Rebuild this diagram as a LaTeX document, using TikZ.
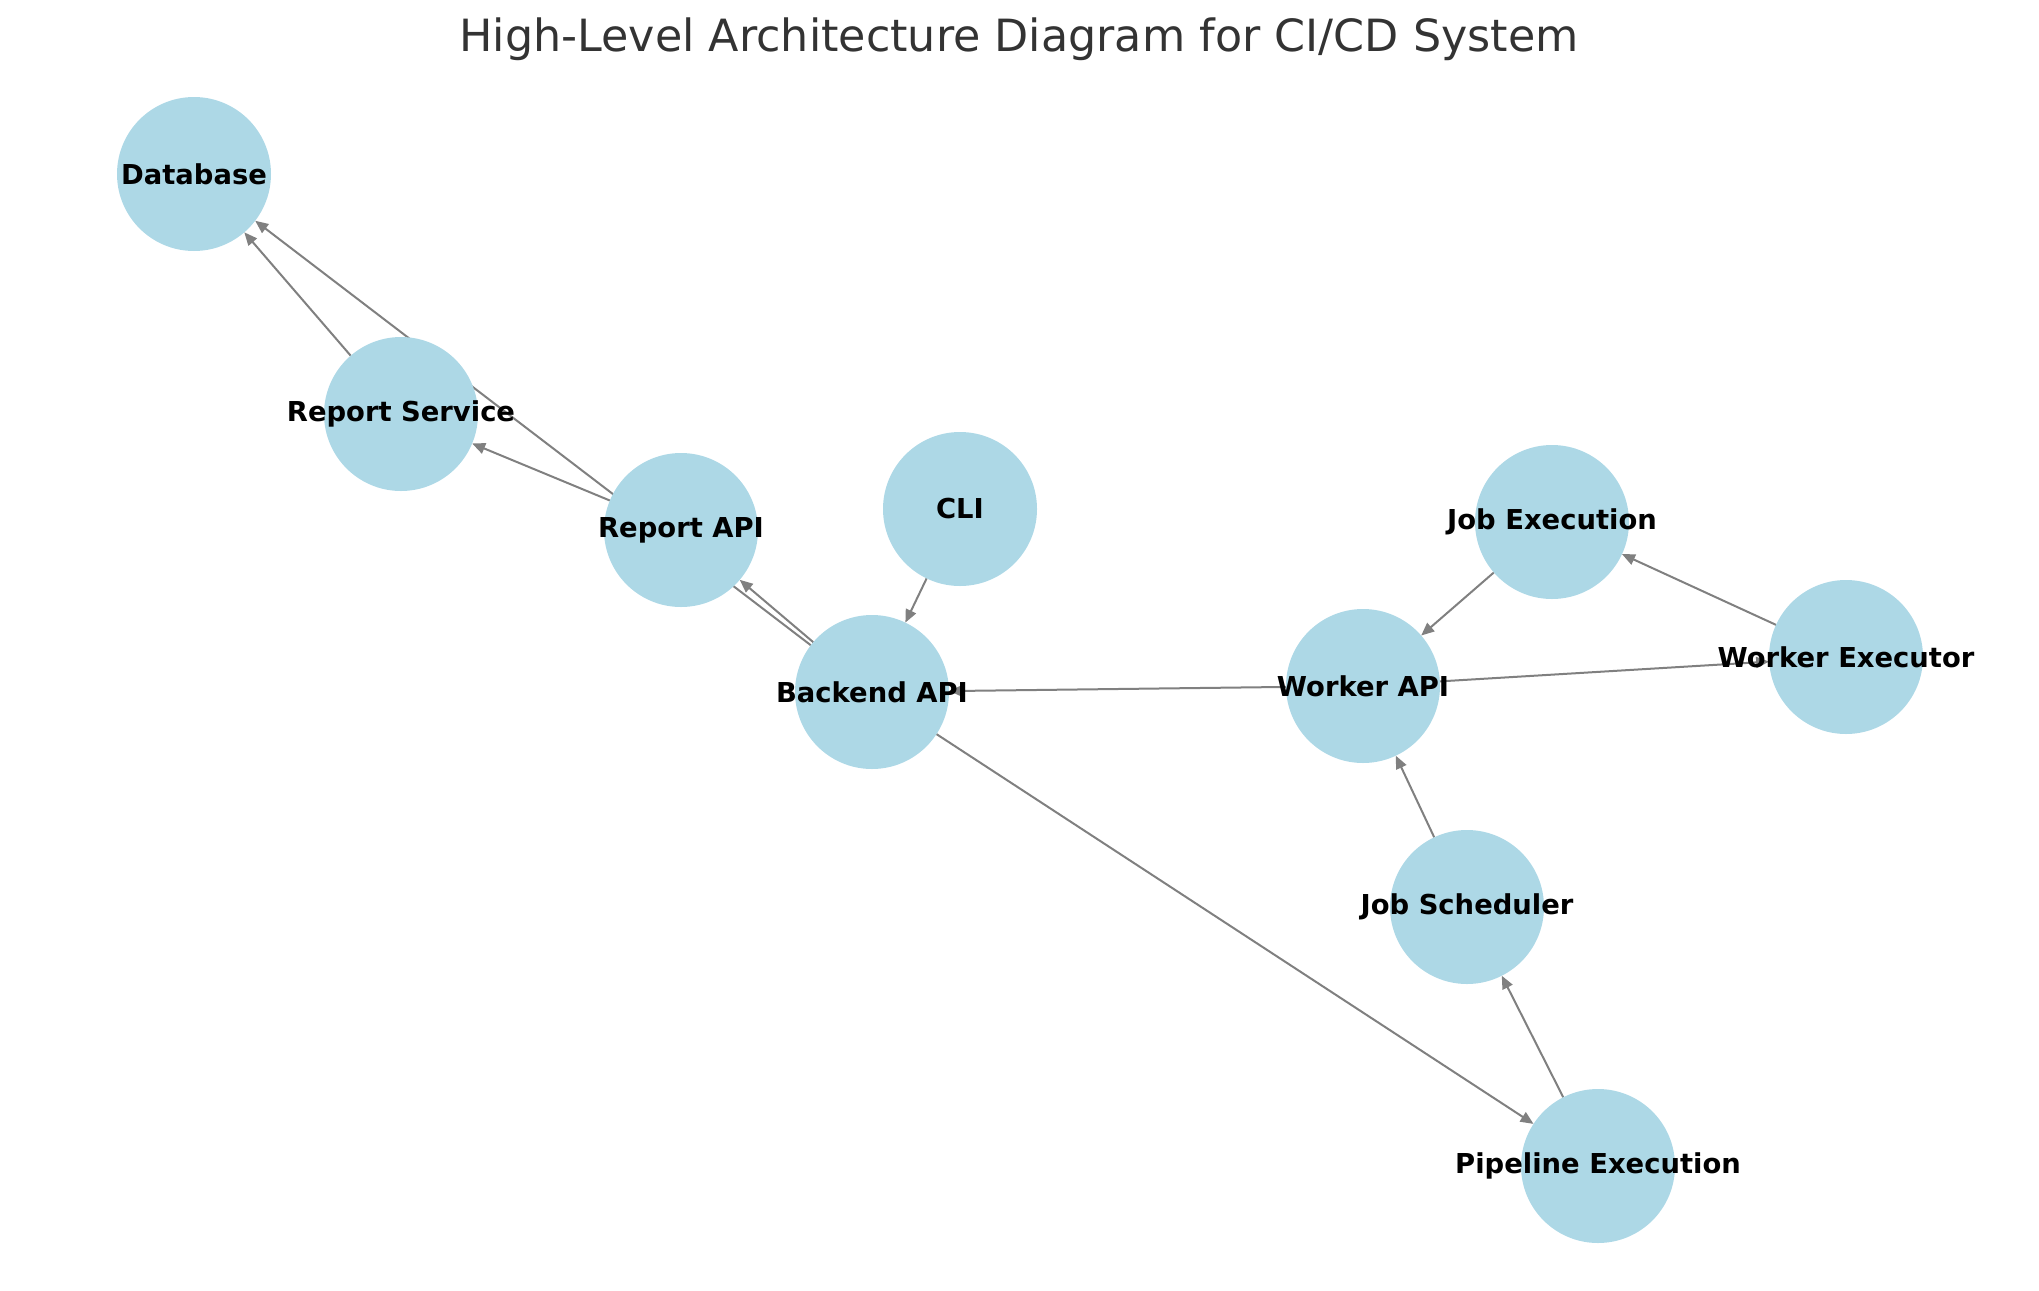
\documentclass[tikz,border=0pt]{standalone}
\usepackage{fontspec}
\setmainfont{DejaVu Sans}
\usetikzlibrary{arrows.meta,backgrounds}
\definecolor{nodeblue}{HTML}{ADD8E6}
\definecolor{edgegray}{HTML}{808080}
\definecolor{titlegray}{HTML}{333333}
\tikzset{
  nodec/.style={circle,fill=nodeblue,draw=none,minimum size=77pt,inner sep=0pt,outer sep=0pt},
  lbl/.style={font=\fontsize{13.7pt}{16pt}\selectfont\bfseries,text=black,inner sep=0pt},
  edge/.style={draw=edgegray,line width=1pt,-{Triangle[length=6.5pt,width=5.5pt]}},
  ttl/.style={font=\fontsize{22.2pt}{26pt}\selectfont,text=titlegray,inner sep=0pt}
}
\begin{document}
\begin{tikzpicture}[x=0.5pt,y=-0.5pt]
\useasboundingbox (0,0) rectangle (2039,1290);
\node[ttl] (title) at (1019,39) {High-Level Architecture Diagram for CI/CD System};
% nodes
\node[nodec] (db)   at (194,174)  {};
\node[nodec] (rs)   at (401,414)  {};
\node[nodec] (rapi) at (681,530)  {};
\node[nodec] (cli)  at (960,509)  {};
\node[nodec] (bapi) at (872,692)  {};
\node[nodec] (je)   at (1552,522) {};
\node[nodec] (wapi) at (1363,686) {};
\node[nodec] (we)   at (1846,657) {};
\node[nodec] (js)   at (1467,907) {};
\node[nodec] (pe)   at (1598,1166) {};
% edges
\begin{scope}[on background layer]
\draw[edge] (cli) -- (bapi);
\draw[edge] (bapi) -- (rapi);
\draw[edge] (bapi) -- (db);
\draw[edge] (rapi) -- (rs);
\draw[edge] (rs) -- (db);
\draw[edge] (wapi) -- (bapi);
\draw[edge] (wapi) -- (we);
\draw[edge] (we) -- (je);
\draw[edge] (je) -- (wapi);
\draw[edge] (js) -- (wapi);
\draw[edge] (pe) -- (js);
\draw[edge] (bapi) -- (pe);
\end{scope}
% labels
\node[lbl] at (db)   {Database};
\node[lbl] at (rs)   {Report Service};
\node[lbl] at (rapi) {Report API};
\node[lbl] at (cli)  {CLI};
\node[lbl] at (bapi) {Backend API};
\node[lbl] at (je)   {Job Execution};
\node[lbl] at (wapi) {Worker API};
\node[lbl] at (we)   {Worker Executor};
\node[lbl] at (js)   {Job Scheduler};
\node[lbl] at (pe)   {Pipeline Execution};
\end{tikzpicture}
\end{document}
